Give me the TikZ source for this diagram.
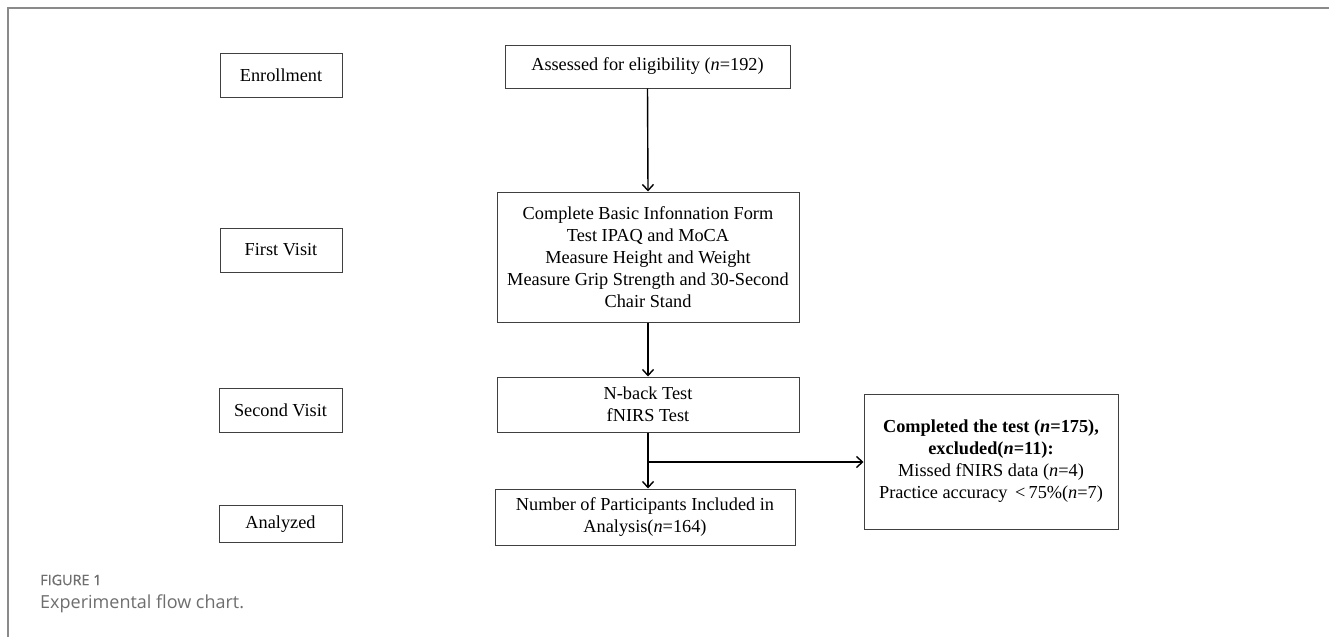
\documentclass[tikz,border=0pt]{standalone}
\usepackage{fontspec}
\setmainfont{Liberation Serif}
\newfontfamily\capfont{Open Sans}
\newfontfamily\capheadfont[FakeBold=0.6]{Open Sans}
\usetikzlibrary{arrows.meta}
\definecolor{framegray}{HTML}{8A8A8A}
\definecolor{capgray}{HTML}{6E6E6E}
\definecolor{boxline}{HTML}{404040}
\tikzset{
  stagebox/.style={draw=boxline, line width=1pt, minimum width=122pt, minimum height=44pt, inner sep=0pt, font=\fontsize{18.3}{22}\selectfont, align=center},
  flowbox/.style={draw=boxline, line width=1pt, inner sep=0pt, font=\fontsize{18.3}{22}\selectfont, align=center},
  arr/.style={line width=1.4pt, -{Straight Barb[length=6pt,width=11pt,line width=1.4pt]}}
}
\begin{document}
\begin{tikzpicture}[x=1pt,y=-1pt]
\useasboundingbox (0,0) rectangle (1329,637);
\fill[white] (0,0) rectangle (1329,637);
\draw[framegray, line width=2pt] (8,637) -- (8,8) -- (1329,8);
% stage labels
\node[stagebox] (enr) at (281,75) {Enrollment};
\node[stagebox] (fv) at (281,250) {First Visit};
\node[stagebox, minimum width=123pt] (sv) at (280.5,410) {Second Visit};
\node[stagebox, minimum width=123pt, minimum height=37pt] (an) at (280.5,524) {Analyzed};
% flow boxes
\node[flowbox, minimum width=285pt, minimum height=43pt] (ass) at (647.5,66.5) {Assessed for eligibility (\textit{n}=192)};
\node[flowbox, minimum width=302pt, minimum height=130pt] (cbi) at (648,257) {Complete Basic Infonnation Form\\Test IPAQ and MoCA\\Measure Height and Weight\\Measure Grip Strength and 30-Second\\Chair Stand};
\node[flowbox, minimum width=302pt, minimum height=55pt] (nb) at (648,404.5) {N-back Test\\fNIRS Test};
\node[flowbox, minimum width=300pt, minimum height=56pt] (num) at (645,517) {Number of Participants Included in\\Analysis(\textit{n}=164)};
\node[flowbox, minimum width=254pt, minimum height=135pt] (exc) at (991,461.5) {\textbf{Completed the test (\textit{n}=175),}\\\textbf{excluded(\textit{n}=11):}\\Missed fNIRS data (\textit{n}=4)\\Practice accuracy \,<\,75\%(\textit{n}=7)};
% connectors
\draw[arr] (ass.south) -- (cbi.north);
\draw[arr] (cbi.south) -- (nb.north);
\draw[arr] (nb.south) -- (nb.south |- num.north);
\coordinate (br) at (648,462);
\draw[arr] (br) -- (exc.west |- br);
% caption
\node[anchor=west, text=capgray, font=\capheadfont\fontsize{14.4}{16}\selectfont, inner sep=0pt] (fig) at (40,580) {FIGURE 1};
\node[anchor=west, text=capgray, font=\capfont\fontsize{18}{21}\selectfont, inner sep=0pt] (cap) at (40,604) {Experimental flow chart.};
\end{tikzpicture}
\end{document}
